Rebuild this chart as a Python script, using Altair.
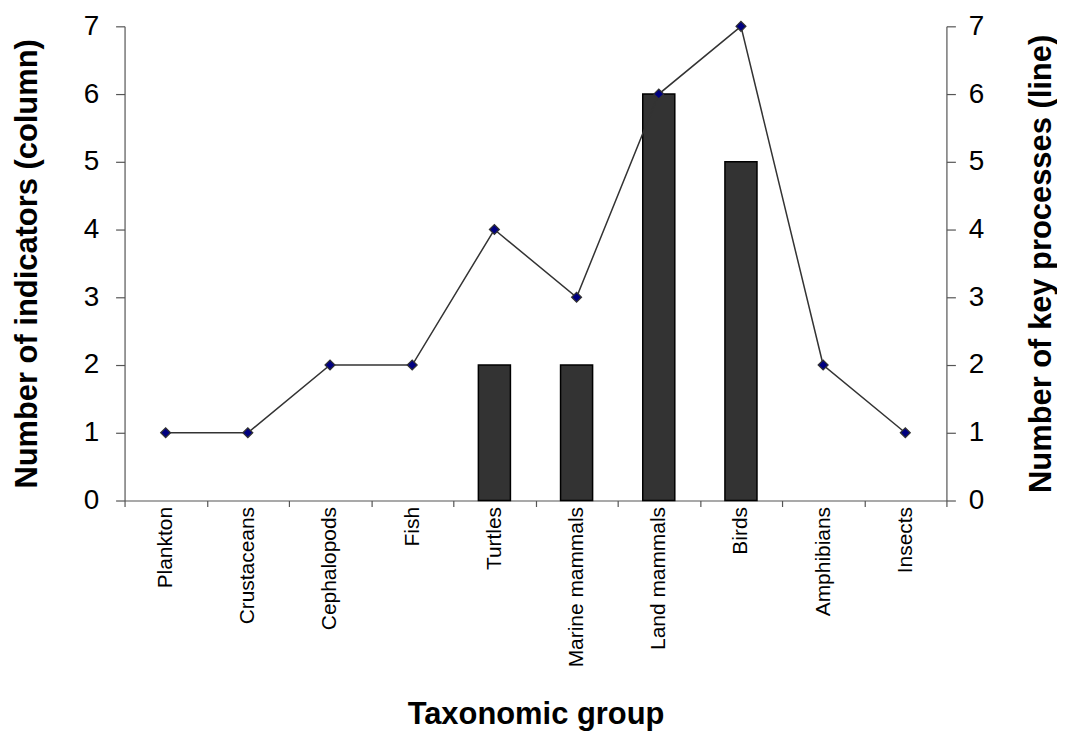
import altair as alt
import pandas as pd

groups = ["Plankton", "Crustaceans", "Cephalopods", "Fish", "Turtles",
          "Marine mammals", "Land mammals", "Birds", "Amphibians", "Insects"]
indicators = [0, 0, 0, 0, 2, 2, 6, 5, 0, 0]
processes = [1, 1, 2, 2, 4, 3, 6, 7, 2, 1]

df = pd.DataFrame({"group": groups, "indicators": indicators, "processes": processes})

FONT = "Liberation Sans"
AX = "#555555"

xenc = alt.X("group:N", sort=groups,
             scale=alt.Scale(paddingInner=0, paddingOuter=0),
             axis=alt.Axis(title="Taxonomic group", labelAngle=-90, labelAlign="right",
                           labelBaseline="middle", labelFontSize=21, labelPadding=0,
                           tickBand="extent", tickSize=6, titleFontSize=31,
                           titleFontWeight="bold", titlePadding=33))

yscale = alt.Scale(domain=[0, 7], nice=False)

bars = alt.Chart(df).transform_filter("datum.indicators > 0").mark_bar(
    width=alt.RelativeBandSize(0.39), color="#333333", stroke="black", strokeWidth=1.5
).encode(
    x=xenc,
    y=alt.Y("indicators:Q", scale=yscale,
            axis=alt.Axis(title="Number of indicators (column)", orient="left",
                          values=list(range(8)), tickSize=9, labelFontSize=28,
                          labelPadding=17, titleFontSize=31, titleFontWeight="bold",
                          titlePadding=40, grid=False)),
)

line = alt.Chart(df).mark_line(
    color="#333333", strokeWidth=1.5,
    point=alt.OverlayMarkDef(shape="diamond", filled=True, size=100, fill="#000080",
                             stroke="#333333", strokeWidth=1.2, opacity=1)
).encode(
    x=alt.X("group:N", sort=groups),
    y=alt.Y("processes:Q", scale=yscale,
            axis=alt.Axis(title="Number of key processes (line)", orient="right",
                          values=list(range(8)), tickSize=9, labelFontSize=28,
                          labelPadding=13, titleFontSize=31, titleFontWeight="bold",
                          titleAngle=270, titlePadding=74, grid=False)),
)

chart = alt.layer(bars, line).resolve_scale(y="independent").properties(
    width=825, height=476,
    padding={"top": 3, "left": 3, "right": 0, "bottom": 5}
).configure_view(stroke=None).configure_axis(
    domainColor=AX, tickColor=AX, labelFont=FONT, titleFont=FONT,
    labelColor="black", titleColor="black", domainWidth=1.2, tickWidth=1.2
)

chart.save("out.html", embed_options={"renderer": "svg", "actions": False})
